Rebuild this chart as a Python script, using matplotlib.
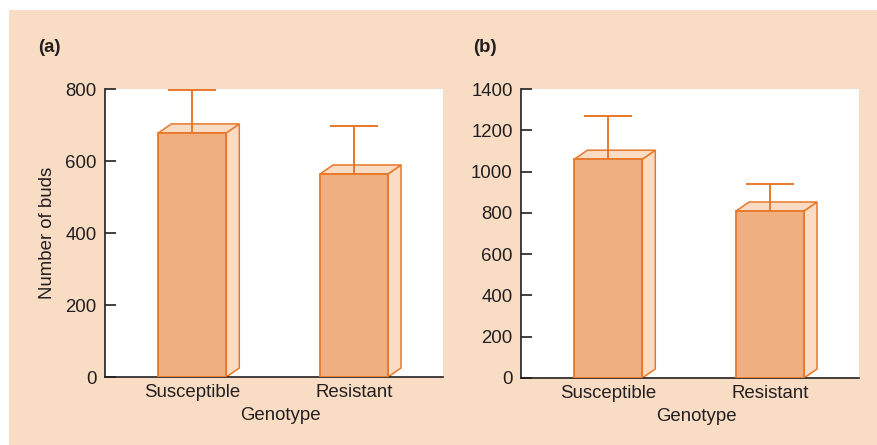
import matplotlib.pyplot as plt
from matplotlib.patches import Polygon, Rectangle

genotypes = ["Susceptible", "Resistant"]
buds_a = [678, 564]
err_a = [118, 133]
buds_b = [1060, 809]
err_b = [208, 130]

bg = "#F9DCC4"
face = "#EFAF7E"
light = "#FADCC4"
edge = "#E8782A"
dark = "#231F20"

plt.rcParams["font.family"] = ["Liberation Sans", "DejaVu Sans"]
plt.rcParams["font.size"] = 13.4

fig = plt.figure(figsize=(8.77, 4.45), dpi=100, facecolor="white")
fig.patches.append(Rectangle((9 / 877, 0), 1, 435 / 445, transform=fig.transFigure,
                             facecolor=bg, edgecolor="none", zorder=-10))


def draw_panel(ax, vals, errs, ymax, step):
    ax.set_facecolor("white")
    ax.set_xlim(-0.54, 1.55)
    ax.set_ylim(0, ymax)
    w = 0.42
    # depth of the fake 3d faces, in pixels turned into data units
    bbox = ax.get_window_extent()
    dx = 13 * 2.09 / bbox.width
    dy = 9 * ymax / bbox.height
    for i, (v, e) in enumerate(zip(vals, errs)):
        x0, x1 = i - w / 2, i + w / 2
        side = [(x1, 0), (x1 + dx, dy), (x1 + dx, v + dy), (x1, v)]
        top = [(x0, v), (x0 + dx, v + dy), (x1 + dx, v + dy), (x1, v)]
        ax.add_patch(Polygon(side, facecolor=light, edgecolor=edge, lw=1.1, zorder=2))
        ax.add_patch(Polygon(top, facecolor=light, edgecolor=edge, lw=1.1, zorder=2))
        ax.bar(i, v, width=w, color=face, edgecolor=edge, lw=1.3, zorder=3)
        ax.vlines(i, v, v + e, color=edge, lw=1.4, zorder=4)
        ax.hlines(v + e, i - 0.148, i + 0.148, color=edge, lw=1.4, zorder=4)
    ax.set_xticks(range(len(genotypes)))
    ax.set_xticklabels(genotypes)
    ax.set_yticks(range(0, ymax + 1, step))
    ax.tick_params(axis="y", direction="in", length=8, width=1.2, color=dark,
                   labelcolor=dark, pad=6)
    ax.tick_params(axis="x", length=0, labelcolor=dark, pad=5)
    for s in ["top", "right"]:
        ax.spines[s].set_visible(False)
    for s in ["left", "bottom"]:
        ax.spines[s].set_color(dark)
        ax.spines[s].set_linewidth(1.2)
    ax.set_xlabel("Genotype", color=dark)
    ax.xaxis.set_label_coords(0.52, -0.105)


ax1 = fig.add_axes([105 / 877, 68 / 445, 338 / 877, 288 / 445])
ax2 = fig.add_axes([521 / 877, 67 / 445, 338 / 877, 289 / 445])

draw_panel(ax1, buds_a, err_a, 800, 200)
draw_panel(ax2, buds_b, err_b, 1400, 200)
ax1.set_ylabel("Number of buds", color=dark)
ax1.yaxis.set_label_coords(-0.145, 0.5)

fig.text(38 / 877, 1 - 48 / 445, "(a)", fontweight="bold", color=dark, va="center")
fig.text(473 / 877, 1 - 48 / 445, "(b)", fontweight="bold", color=dark, va="center")

fig.savefig("out.png", dpi=100, facecolor="white")
